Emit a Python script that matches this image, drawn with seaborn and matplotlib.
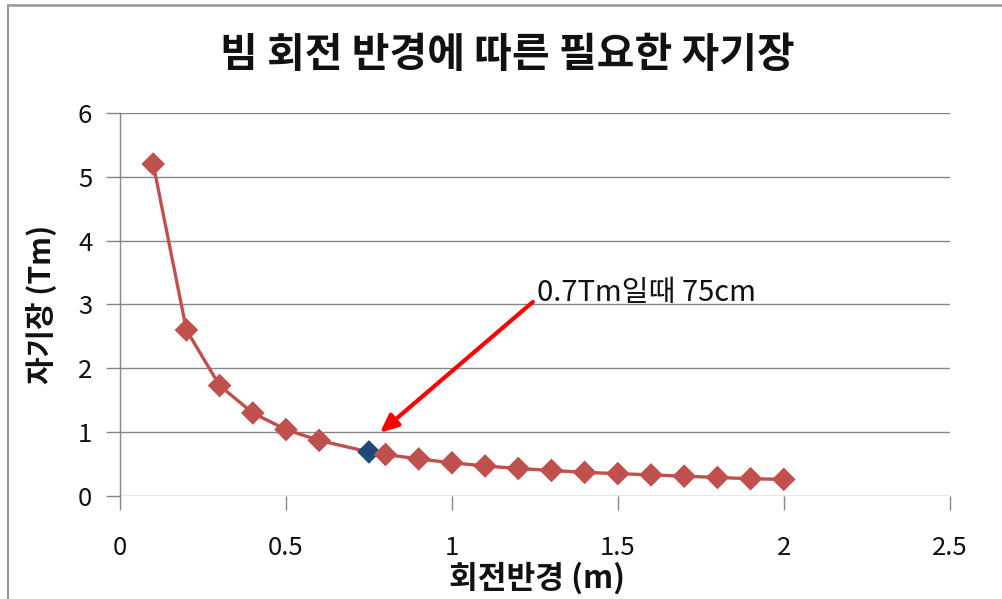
import numpy as np
import pandas as pd
import matplotlib
matplotlib.use("Agg")
import matplotlib.pyplot as plt
from matplotlib.lines import Line2D
import seaborn as sns

# Beam rotation radius (m) and the magnetic rigidity it requires (Tm)
radius = [0.1, 0.2, 0.3, 0.4, 0.5, 0.6, 0.75, 0.8, 0.9, 1.0,
          1.1, 1.2, 1.3, 1.4, 1.5, 1.6, 1.7, 1.8, 1.9, 2.0]
field = [5.2, 2.6, 1.73, 1.3, 1.04, 0.87, 0.69, 0.65, 0.58, 0.52,
         0.47, 0.43, 0.40, 0.37, 0.35, 0.33, 0.31, 0.29, 0.27, 0.26]
highlight_radius = 0.75

x_ticks = [0, 0.5, 1, 1.5, 2, 2.5]
x_tick_labels = ["0", "0.5", "1", "1.5", "2", "2.5"]
y_ticks = [0, 1, 2, 3, 4, 5, 6]

title = "빔 회전 반경에 따른 필요한 자기장"
x_label = "회전반경 (m)"
y_label = "자기장 (Tm)"
note = "0.7Tm일때 75cm"

df = pd.DataFrame({"radius": radius, "field": field})
df["kind"] = np.where(np.isclose(df["radius"], highlight_radius), "sel", "base")

RED = "#C0504D"
BLUE = "#1F497D"
GRID = "#868686"

sns.set_theme(style="white")
plt.rcParams["font.family"] = ["Noto Sans CJK KR", "DejaVu Sans"]

fig = plt.figure(figsize=(10.02, 5.99), dpi=100)
ax = fig.add_axes([0.1198, 0.172, 0.828, 0.6394])

sns.lineplot(data=df, x="radius", y="field", ax=ax, color=RED,
             linewidth=2.4, zorder=3)
sns.scatterplot(data=df, x="radius", y="field", hue="kind",
                palette={"base": RED, "sel": BLUE}, marker="D", s=145,
                linewidth=0, ax=ax, legend=False, zorder=4)

ax.set_xlim(0, 2.5)
ax.set_ylim(0, 6)
ax.set_xticks(x_ticks)
ax.set_xticklabels(x_tick_labels)
ax.set_yticks(y_ticks)

ax.yaxis.grid(True, color=GRID, linewidth=1)
ax.xaxis.grid(False)
for side in ("top", "right", "bottom"):
    ax.spines[side].set_visible(False)
ax.spines["left"].set_color(GRID)
ax.spines["left"].set_linewidth(1)
ax.set_axisbelow(True)

ax.tick_params(axis="y", length=10, width=1, color=GRID, pad=10,
               labelsize=18.5, labelcolor="#111111", left=True)
ax.tick_params(axis="x", length=10, width=1, color=GRID, pad=18,
               labelsize=18.5, labelcolor="#111111", bottom=True)

ax.set_xlabel(x_label, fontsize=22.5, fontweight="bold", color="#111111")
ax.set_ylabel(y_label, fontsize=21.5, fontweight="bold", color="#111111")
ax.xaxis.label.set_va("center")
ax.yaxis.label.set_va("center")
ax.xaxis.set_label_coords(0.502, -0.214)
ax.yaxis.set_label_coords(-0.096, 0.499)

fig.text(0.506, 1 - 55 / 599, title, ha="center", va="center",
         fontsize=29.5, fontweight="bold", color="#111111")

# Callout pointing at the highlighted radius
ax.annotate("", xy=(0.783, 0.99), xytext=(1.244, 3.04),
            arrowprops=dict(arrowstyle="-|>,head_length=0.9,head_width=0.4",
                            color="#FF0000", linewidth=3, shrinkA=0, shrinkB=0),
            zorder=5)
ax.text(1.256, 3.18, note, ha="left", va="center", fontsize=21,
        color="#111111")

# Thin frame around the chart area
fig.add_artist(Line2D([8 / 1002, 8 / 1002], [0, 1 - 5 / 599],
                      transform=fig.transFigure, color="#808080", linewidth=1.2))
fig.add_artist(Line2D([8 / 1002, 1], [1 - 5 / 599, 1 - 5 / 599],
                      transform=fig.transFigure, color="#A0A0A0", linewidth=2))

fig.savefig("out.png", dpi=100, facecolor="white")
